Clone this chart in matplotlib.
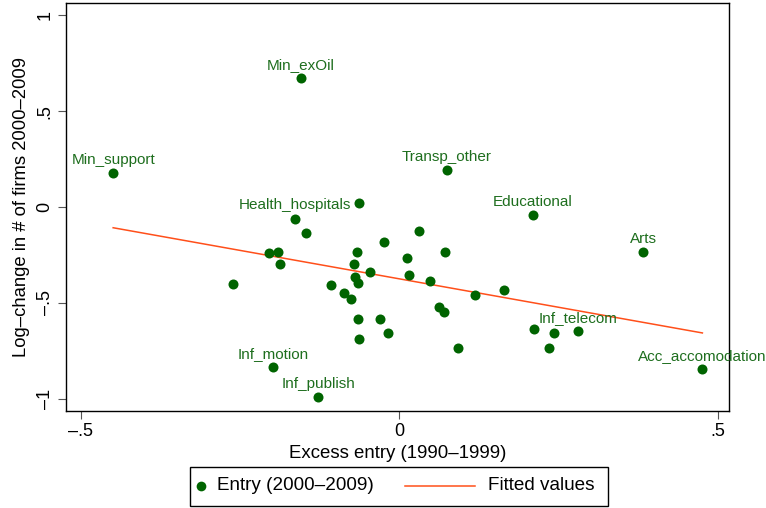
import matplotlib
matplotlib.use("Agg")
import matplotlib.pyplot as plt
import numpy as np
from matplotlib.lines import Line2D
from matplotlib.patches import Rectangle

# Data
labels = ["Min_exOil", "Min_support", "Health_hospitals", "Transp_other", "Educational",
          "Arts", "Acc_accomodation", "Inf_motion", "Inf_publish", "Inf_telecom"]
label_x = [-0.154, -0.449, -0.063, 0.075, 0.210, 0.383, 0.476, -0.198, -0.127, 0.281]
label_y = [0.674, 0.178, 0.021, 0.193, -0.042, -0.235, -0.846, -0.836, -0.992, -0.648]
label_pos = ["top", "top", "left", "top", "top", "top", "top", "top", "top", "top"]

other_x = [-0.163, -0.146, -0.204, -0.190, -0.187, -0.261, -0.107, -0.086, -0.075,
           -0.066, -0.071, -0.069, -0.064, -0.024, -0.046, 0.031, 0.013, 0.016, 0.072,
           0.049, 0.119, 0.165, 0.063, 0.071, -0.064, -0.030, -0.017, -0.063, 0.093,
           0.212, 0.243, 0.235]
other_y = [-0.063, -0.136, -0.240, -0.235, -0.298, -0.402, -0.407, -0.449, -0.480,
           -0.235, -0.298, -0.366, -0.397, -0.183, -0.339, -0.125, -0.266, -0.355, -0.235,
           -0.386, -0.460, -0.433, -0.522, -0.548, -0.585, -0.585, -0.658, -0.689, -0.736,
           -0.637, -0.658, -0.736]

xticks = [-0.5, 0, 0.5]
xticklabels = ["\u2013.5", "0", ".5"]
yticks = [-1, -0.5, 0, 0.5, 1]
yticklabels = ["\u20131", "\u2013.5", "0", ".5", "1"]
legend_labels = ["Entry (2000\u20132009)", "Fitted values"]

x_all = np.array(label_x + other_x)
y_all = np.array(label_y + other_y)

dot_color = "#006400"
text_color = "#1e6e1e"
line_color = "#ff4f1a"

plt.rcParams['font.family'] = ['Liberation Sans', 'DejaVu Sans']

W, H = 766, 508
fig = plt.figure(figsize=(W / 100, H / 100), dpi=100)
ax = fig.add_axes([66 / W, 1 - 411 / H, (728.5 - 66) / W, (411 - 3) / H])

ax.scatter(x_all, y_all, s=52, color=dot_color, zorder=3, linewidths=0)

coef = np.polyfit(x_all, y_all, 1)
xf = np.array([x_all.min(), x_all.max()])
ax.plot(xf, np.polyval(coef, xf), color=line_color, lw=1.1, zorder=2)

for name, x, y, pos in zip(labels, label_x, label_y, label_pos):
    if pos == "top":
        ax.annotate(name, (x, y), xytext=(0, 9.5), textcoords="offset points",
                    ha="center", va="center", fontsize=11, color=text_color)
    else:
        ax.annotate(name, (x, y), xytext=(-5.5, -1.5), textcoords="offset points",
                    ha="right", va="center", fontsize=11, color=text_color)

ax.set_xlim(-0.523, 0.517)
ax.set_ylim(-1.065, 1.065)
ax.set_xticks(xticks)
ax.set_xticklabels(xticklabels)
ax.set_yticks(yticks)
ax.set_yticklabels(yticklabels, rotation=90, va="center")
ax.tick_params(direction="out", length=6, width=0.8, color="#555555", labelsize=13, pad=3)
for s in ax.spines.values():
    s.set_linewidth(1.0)
    s.set_color("black")

ax.set_xlabel("Excess entry (1990\u20131999)", fontsize=13.4, labelpad=3)
ax.set_ylabel("Log\u2013change in # of firms 2000\u20132009", fontsize=13.3, labelpad=5)

# Legend box (drawn in figure pixel fractions)
def fx(px):
    return px / W

def fy(py):
    return 1 - py / H

ly = 486
fig.add_artist(Rectangle((fx(189.5), fy(505.5)), fx(607.5) - fx(189.5), fy(466.5) - fy(505.5),
                         transform=fig.transFigure, facecolor="white", edgecolor="black",
                         linewidth=1.0))
fig.add_artist(Line2D([fx(200.5)], [fy(ly)], marker="o", markersize=7, color=dot_color,
                      markeredgewidth=0, linestyle="none", transform=fig.transFigure))
fig.text(fx(217), fy(ly), legend_labels[0], fontsize=13.6, va="center", ha="left")
fig.add_artist(Line2D([fx(405), fx(475)], [fy(ly), fy(ly)], color=line_color, lw=1.1,
                      transform=fig.transFigure))
fig.text(fx(487.5), fy(ly), legend_labels[1], fontsize=13.6, va="center", ha="left")

fig.savefig("out.png", dpi=100)
